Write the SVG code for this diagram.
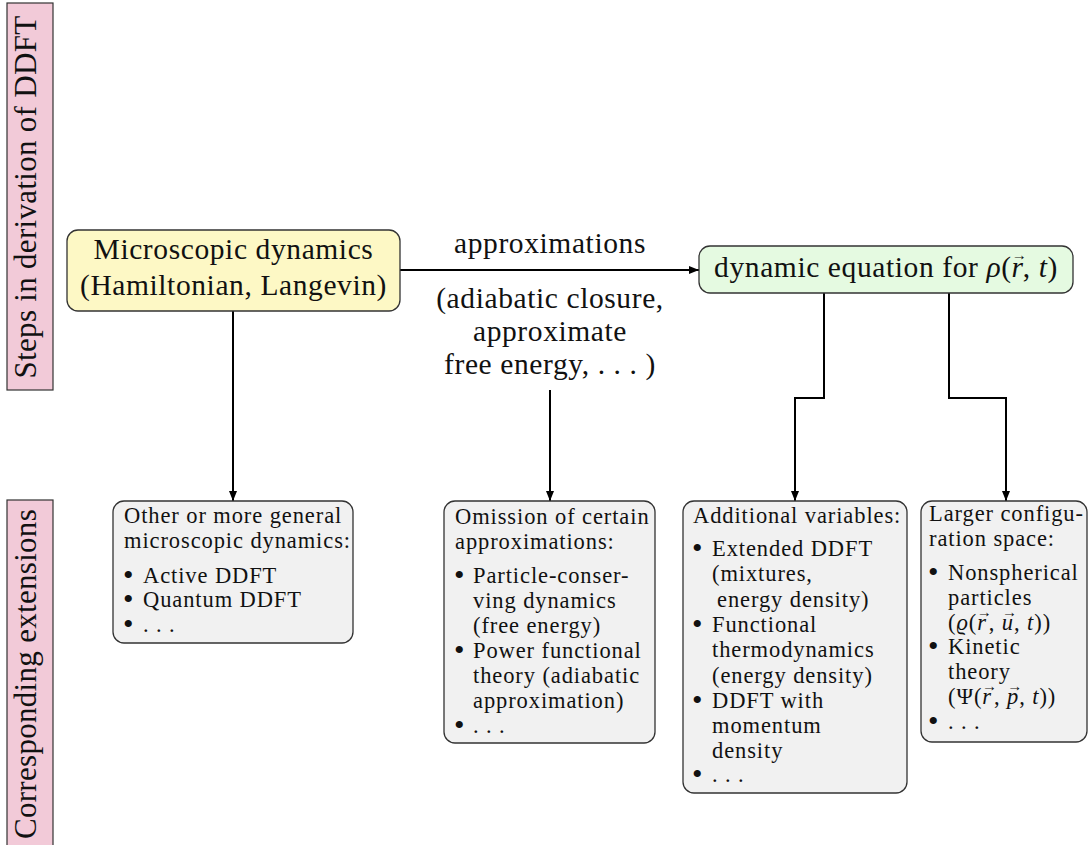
<svg xmlns="http://www.w3.org/2000/svg" width="1091" height="845" viewBox="0 0 1091 845" font-family="'Liberation Serif', 'Times New Roman', serif">
<defs>
<marker id="ah" viewBox="0 0 10 10" refX="10" refY="5" markerWidth="10" markerHeight="10" markerUnits="userSpaceOnUse" orient="auto">
<path d="M0,1 L10,5 L0,9 Z" fill="#000"/>
</marker>
<style>
text{fill:#111}
.side{font-size:31px;letter-spacing:0.3px}
.big{font-size:29.5px;letter-spacing:0.6px}
.sm{font-size:22.5px;letter-spacing:0.9px}
.m{font-style:italic}
.b{font-size:30px}
.v{font-size:15px;font-style:normal;letter-spacing:0}
.pink{fill:#f2cad8;stroke:#333;stroke-width:1.2}
.node{stroke:#333;stroke-width:1.3}
.yel{fill:#fdf8c5}
.grn{fill:#e5fae1}
.gry{fill:#f1f1f1}
.conn path,.conn line{fill:none;stroke:#000;stroke-width:2}
</style>
</defs>
<rect width="1091" height="845" fill="#fff"/>

<g id="label-steps">
<rect class="pink" x="7" y="3" width="46" height="387"/>
<text class="side" transform="translate(36,197) rotate(-90)" text-anchor="middle">Steps in derivation of DDFT</text>
</g>
<g id="label-ext">
<rect class="pink" x="7" y="500" width="46" height="360"/>
<text class="side" transform="translate(36,674) rotate(-90)" text-anchor="middle">Corresponding extensions</text>
</g>

<g class="conn" id="connectors">
<line x1="400" y1="270" x2="699" y2="270" marker-end="url(#ah)"/>
<line x1="233" y1="311" x2="233" y2="501" marker-end="url(#ah)"/>
<line x1="550" y1="390" x2="550" y2="501" marker-end="url(#ah)"/>
<path d="M824,293 V398 H795 V501" marker-end="url(#ah)"/>
<path d="M949,293 V398 H1006 V501" marker-end="url(#ah)"/>
</g>

<g id="node-micro">
<rect class="node yel" x="67" y="230" width="333" height="81" rx="11"/>
<text class="big" x="233.5" y="259" text-anchor="middle">Microscopic dynamics</text>
<text class="big" x="233.5" y="295" text-anchor="middle">(Hamiltonian, Langevin)</text>
</g>

<g id="label-approx">
<text class="big" x="550" y="253" text-anchor="middle">approximations</text>
<text class="big" x="550" y="308" text-anchor="middle">(adiabatic closure,</text>
<text class="big" x="550" y="341" text-anchor="middle">approximate</text>
<text class="big" x="550" y="374" text-anchor="middle">free energy, . . . )</text>
</g>

<g id="node-dyn">
<rect class="node grn" x="699" y="246" width="374" height="47" rx="11"/>
<text class="big" x="886" y="277" text-anchor="middle">dynamic equation for <tspan class="m">ρ</tspan>(<tspan class="m">r</tspan><tspan class="v" dx="-12" dy="-17">→</tspan><tspan dx="-4" dy="17">, </tspan><tspan class="m">t</tspan>)</text>
</g>

<g id="box-micro">
<rect class="node gry" x="113" y="501" width="240" height="142" rx="11"/>
<text class="sm" x="124" y="523">Other or more general</text>
<text class="sm" x="124" y="548">microscopic dynamics:</text>
<text class="sm b" x="123" y="585">•</text><text class="sm" x="143" y="583">Active DDFT</text>
<text class="sm b" x="123" y="609">•</text><text class="sm" x="143" y="607">Quantum DDFT</text>
<text class="sm b" x="123" y="634">•</text><text class="sm" x="143" y="632">. . .</text>
</g>

<g id="box-omission">
<rect class="node gry" x="444" y="501" width="211" height="242" rx="11"/>
<text class="sm" x="455" y="524">Omission of certain</text>
<text class="sm" x="455" y="549">approximations:</text>
<text class="sm b" x="454" y="585">•</text><text class="sm" x="473" y="583">Particle-conser-</text>
<text class="sm" x="473" y="608">ving dynamics</text>
<text class="sm" x="473" y="633">(free energy)</text>
<text class="sm b" x="454" y="660">•</text><text class="sm" x="473" y="658">Power functional</text>
<text class="sm" x="473" y="683">theory (adiabatic</text>
<text class="sm" x="473" y="708">approximation)</text>
<text class="sm b" x="454" y="735">•</text><text class="sm" x="473" y="733">. . .</text>
</g>

<g id="box-variables">
<rect class="node gry" x="683" y="501" width="224" height="292" rx="11"/>
<text class="sm" x="693" y="523">Additional variables:</text>
<text class="sm b" x="692" y="558">•</text><text class="sm" x="712" y="556">Extended DDFT</text>
<text class="sm" x="712" y="581">(mixtures,</text>
<text class="sm" x="717" y="607">energy density)</text>
<text class="sm b" x="692" y="634">•</text><text class="sm" x="712" y="632">Functional</text>
<text class="sm" x="712" y="657">thermodynamics</text>
<text class="sm" x="712" y="683">(energy density)</text>
<text class="sm b" x="692" y="710">•</text><text class="sm" x="712" y="708">DDFT with</text>
<text class="sm" x="712" y="733">momentum</text>
<text class="sm" x="712" y="758">density</text>
<text class="sm b" x="692" y="784">•</text><text class="sm" x="712" y="782">. . .</text>
</g>

<g id="box-config">
<rect class="node gry" x="921" y="501" width="166" height="241" rx="11"/>
<text class="sm" x="929" y="521">Larger configu-</text>
<text class="sm" x="929" y="546">ration space:</text>
<text class="sm b" x="928" y="582">•</text><text class="sm" x="948" y="580">Nonspherical</text>
<text class="sm" x="948" y="605">particles</text>
<text class="sm" x="948" y="630">(<tspan class="m">ϱ</tspan>(<tspan class="m">r</tspan><tspan class="v" dx="-10" dy="-13">→</tspan><tspan dx="-3" dy="13">, </tspan><tspan class="m">u</tspan><tspan class="v" dx="-12" dy="-13">→</tspan><tspan dx="-3" dy="13">, </tspan><tspan class="m">t</tspan>))</text>
<text class="sm b" x="928" y="656">•</text><text class="sm" x="948" y="654">Kinetic</text>
<text class="sm" x="948" y="679">theory</text>
<text class="sm" x="948" y="704">(Ψ(<tspan class="m">r</tspan><tspan class="v" dx="-10" dy="-13">→</tspan><tspan dx="-3" dy="13">, </tspan><tspan class="m">p</tspan><tspan class="v" dx="-12" dy="-13">→</tspan><tspan dx="-3" dy="13">, </tspan><tspan class="m">t</tspan>))</text>
<text class="sm b" x="928" y="731">•</text><text class="sm" x="948" y="729">. . .</text>
</g>
</svg>
